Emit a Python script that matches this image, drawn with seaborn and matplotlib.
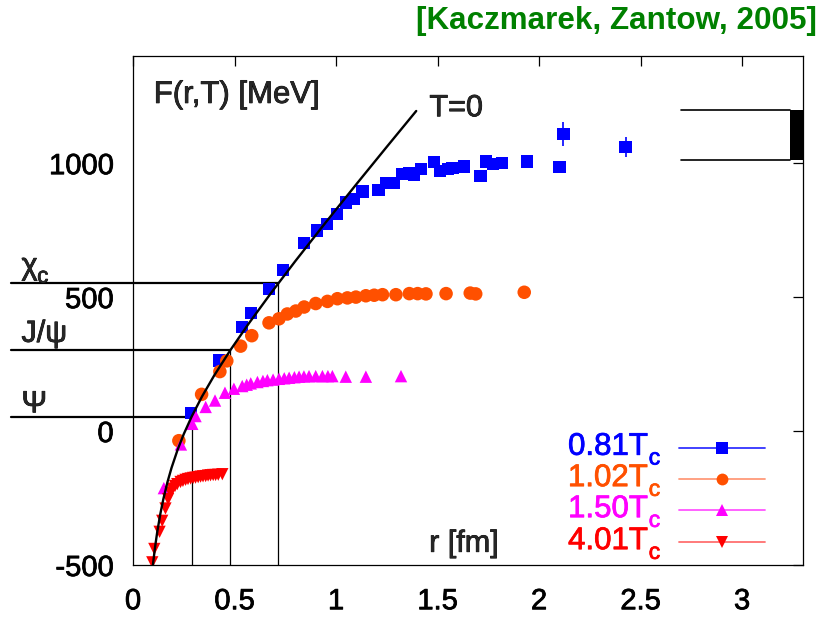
import matplotlib
matplotlib.use("Agg")
import matplotlib.pyplot as plt
import matplotlib.transforms as mtransforms
import matplotlib.patheffects as pe
import pandas as pd
import seaborn as sns

# ---------------- data: free energy F(r,T) [MeV] vs r [fm] ----------------
r_081 = [0.284, 0.423, 0.538, 0.583, 0.670, 0.739, 0.842, 0.905, 0.955, 1.004,
         1.048, 1.089, 1.130, 1.209, 1.246, 1.287, 1.325, 1.361, 1.385, 1.418,
         1.484, 1.512, 1.550, 1.574, 1.632, 1.711, 1.739, 1.772, 1.818, 1.939,
         2.101, 2.120, 2.426]
F_081 = [68, 263, 389, 441, 530, 602, 702, 749, 774, 811,
         853, 866, 894, 900, 925, 925, 959, 962, 956, 977,
         1004, 972, 978, 981, 987, 952, 1006, 996, 1000, 1006,
         985, 1109, 1061]
dF_081 = [0] * 31 + [44, 38]

r_102 = [0.226, 0.338, 0.428, 0.462, 0.530, 0.585, 0.670, 0.719, 0.760, 0.802,
         0.843, 0.900, 0.958, 1.007, 1.056, 1.098, 1.147, 1.188, 1.229, 1.295,
         1.361, 1.402, 1.443, 1.542, 1.661, 1.688, 1.927]
F_102 = [-36, 137, 222, 262, 317, 356, 404, 419, 437, 448,
         463, 476, 484, 494, 497, 500, 505, 507, 509, 509,
         513, 513, 512, 513, 515, 512, 518]

r_150 = [0.152, 0.236, 0.292, 0.308, 0.358, 0.404, 0.453, 0.497, 0.538, 0.560,
         0.580, 0.613, 0.640, 0.662, 0.690, 0.719, 0.745, 0.769, 0.795, 0.818,
         0.842, 0.867, 0.900, 0.933, 0.960, 0.982, 1.048, 1.147, 1.320]
F_150 = [-213, -50, 27, 56, 90, 114, 143, 158, 168, 173,
         178, 183, 187, 190, 192, 195, 197, 199, 201, 203,
         204, 205, 205, 205, 205, 205, 203, 203, 205]

r_401 = [0.095, 0.105, 0.131, 0.144, 0.160, 0.173, 0.185, 0.195, 0.207, 0.218,
         0.234, 0.246, 0.259, 0.271, 0.284, 0.296, 0.308, 0.321, 0.333, 0.345,
         0.358, 0.370, 0.382, 0.395, 0.407, 0.420, 0.440]
F_401 = [-490, -440, -376, -335, -289, -254, -229, -215, -205, -198,
         -190, -186, -182, -179, -177, -175, -174, -172, -170, -169,
         -168, -166, -165, -164, -164, -163, -161]

# zero-temperature potential
r_T0 = [0.095, 0.10, 0.11, 0.12, 0.135, 0.15, 0.17, 0.19, 0.22, 0.25, 0.29,
        0.34, 0.40, 0.48, 0.57, 0.68, 0.80, 0.95, 1.10, 1.25, 1.395]
F_T0 = [-521.5, -487, -426.3, -374.2, -308.1, -252.5, -190.0, -136.9, -69.3,
        -11.5, 55.5, 129.0, 207.5, 302.5, 401.3, 515.4, 634.8, 779.5, 921.2,
        1060.9, 1194.7]

# charmonium states: binding level and radius where it meets the T=0 curve
state_names = ["χ", "J/ψ", "Ψ"]
state_subs = ["c", "", ""]
state_F = [551, 302, 52]
state_r = [0.716, 0.478, 0.292]
state_text_F = [585, 333, 70]

# string-breaking band
band_r = [2.70, 3.236]
band_F = [1010, 1200]

series_labels = ["0.81", "1.02", "1.50", "4.01"]
series_colors = ["#0000FF", "#FF5000", "#FF00FF", "#FF0000"]
legend_line_colors = ["#3333FF", "#FF9A7A", "#FF55FF", "#FF7070"]
series_markers = ["s", "o", "^", "v"]
series_sizes = [78, 95, 80, 78]

x_ticks = [0, 0.5, 1, 1.5, 2, 2.5, 3]
x_ticklabels = ["0", "0.5", "1", "1.5", "2", "2.5", "3"]
y_ticks = [-500, 0, 500, 1000]
y_ticklabels = ["-500", "0", "500", "1000"]

# ---------------- style ----------------
sns.set_style("white")
plt.rcParams["font.family"] = ["Liberation Sans", "DejaVu Sans"]
plt.rcParams["axes.unicode_minus"] = False

def heavy(color="black", w=0.55):
    return [pe.withStroke(linewidth=w, foreground=color)]

frames = []
for lab, rr, ff in zip(series_labels, [r_081, r_102, r_150, r_401],
                       [F_081, F_102, F_150, F_401]):
    frames.append(pd.DataFrame({"r": rr, "F": ff, "T": lab}))
df = pd.concat(frames, ignore_index=True)
df_T0 = pd.DataFrame({"r": r_T0, "F": F_T0})

fig = plt.figure(figsize=(8.27, 6.20), dpi=100)
ax = fig.add_axes([0.1608, 0.0887, 0.8102, 0.8210])

# state levels and their radii
for Fs, rs in zip(state_F, state_r):
    ax.plot([-0.603, rs], [Fs, Fs], color="black", lw=1.6, clip_on=False, zorder=2)
    ax.plot([rs, rs], [-500, Fs], color="black", lw=0.9, zorder=2)
trans_lbl = mtransforms.blended_transform_factory(fig.transFigure, ax.transData)
for name, sub, Ft in zip(state_names, state_subs, state_text_F):
    ax.text(0.026, Ft, name, transform=trans_lbl, fontsize=22, ha="left",
            va="baseline", clip_on=False, path_effects=heavy())
    if sub:
        ax.annotate(sub, xy=(0.045, Ft), xycoords=trans_lbl, xytext=(0, -6),
                    textcoords="offset points", fontsize=16, ha="left",
                    va="baseline", annotation_clip=False, path_effects=heavy())

# error bars on the large-distance points
err_idx = [i for i, e in enumerate(dF_081) if e > 0]
ax.errorbar([r_081[i] for i in err_idx], [F_081[i] for i in err_idx],
            yerr=[dF_081[i] for i in err_idx], fmt="none", ecolor="#0000FF",
            elinewidth=1.2, capsize=0, zorder=3)

sns.scatterplot(data=df, x="r", y="F", hue="T", style="T", size="T",
                palette=dict(zip(series_labels, series_colors)),
                markers=dict(zip(series_labels, series_markers)),
                sizes=dict(zip(series_labels, series_sizes)),
                linewidth=0, legend=False, ax=ax, zorder=4)

sns.lineplot(data=df_T0, x="r", y="F", sort=False, color="black", lw=1.7,
             ax=ax, zorder=5)

# string-breaking band
ax.plot(band_r, [band_F[0]] * 2, color="black", lw=1.2, zorder=2)
ax.plot(band_r, [band_F[1]] * 2, color="black", lw=1.2, zorder=2)
ax.fill_between([band_r[1], 3.3], band_F[0], band_F[1], color="black", lw=0, zorder=2)

# axes
ax.set_xlim(0, 3.3)
ax.set_ylim(-500, 1400)
ax.set_xticks(x_ticks)
ax.set_xticklabels(x_ticklabels)
ax.set_yticks(y_ticks)
ax.set_yticklabels(y_ticklabels)
ax.set_xlabel("")
ax.set_ylabel("")
ax.tick_params(axis="both", direction="in", length=7, width=0.9, labelsize=21,
               top=True, right=True, color="black", labelcolor="black")
ax.tick_params(axis="x", pad=16)
ax.tick_params(axis="y", pad=14)
for lbl in ax.get_xticklabels() + ax.get_yticklabels():
    lbl.set_path_effects(heavy())
for sp in ax.spines.values():
    sp.set_visible(True)
    sp.set_color("black")
    sp.set_linewidth(0.9)

ax.text(0.031, 0.953, "F(r,T) [MeV]", transform=ax.transAxes, fontsize=22.4,
        ha="left", va="top", path_effects=heavy())
ax.text(1.46, 1205, "T=0", fontsize=22, ha="left", va="center",
        path_effects=heavy())
ax.text(0.442, 0.026, "r [fm]", transform=ax.transAxes, fontsize=22,
        ha="left", va="baseline", path_effects=heavy())

# legend
leg_y = [0.2305, 0.169, 0.108, 0.0452]
for lab, col, lcol, mk, y in zip(series_labels, series_colors, legend_line_colors,
                                 series_markers, leg_y):
    ax.text(0.7687, y - 0.014, lab + "T", transform=ax.transAxes,
            fontsize=22.5, color=col, ha="right", va="baseline",
            path_effects=heavy(col))
    ax.annotate("c", xy=(0.7687, y - 0.014), xycoords=ax.transAxes,
                xytext=(0.5, -7), textcoords="offset points", fontsize=16.5,
                color=col, ha="left", va="baseline", path_effects=heavy(col))
    ax.plot([0.815, 0.943], [y, y], transform=ax.transAxes, color=lcol, lw=1.3,
            clip_on=False, zorder=6)
    ax.plot([0.879], [y], transform=ax.transAxes, marker=mk, color=col, ms=8.5,
            mew=0, linestyle="none", clip_on=False, zorder=7)

fig.text(817 / 827, 1 - 21 / 620, "[Kaczmarek, Zantow, 2005]", fontsize=22.6,
         fontweight="bold", color="#008000", ha="right", va="center")

fig.savefig("out.png", dpi=100)
